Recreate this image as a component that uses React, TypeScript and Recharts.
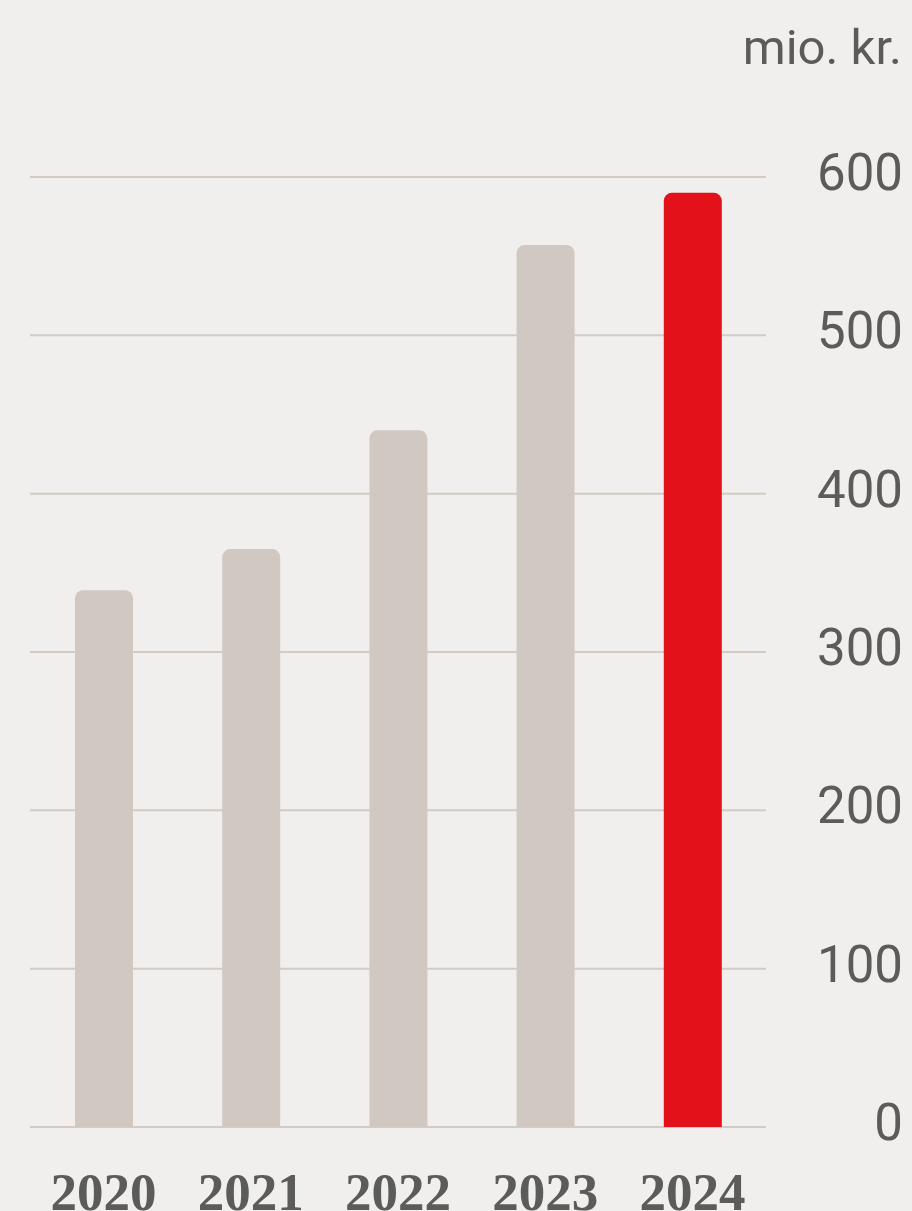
import { BarChart, Bar, XAxis, YAxis, CartesianGrid, Cell } from 'recharts'

const years = ['2020', '2021', '2022', '2023', '2024']
const values = [339, 365, 440, 557, 590]
const yTicks = [0, 100, 200, 300, 400, 500, 600]

const chartData = years.map((y, i) => ({ year: y, value: values[i] }))

const grey = '#d1c8c1'
const red = '#e2111a'
const textColor = '#5b5b59'

const YTick = (props: any) => {
  const { y, payload } = props
  return (
    <text
      x={903}
      y={y + 13}
      textAnchor="end"
      fill={textColor}
      fontFamily="Roboto, 'Noto Sans', sans-serif"
      fontSize={51}
    >
      {payload.value}
    </text>
  )
}

// year labels sit right at the bottom edge, like in the original
const XTick = (props: any) => {
  const { x, y, payload } = props
  return (
    <text
      x={x}
      y={y + 75}
      textAnchor="middle"
      fill={textColor}
      fontFamily="'Liberation Serif', 'DejaVu Serif', serif"
      fontWeight="bold"
      fontSize={53}
    >
      {payload.value}
    </text>
  )
}

export default function App() {
  return (
    <div
      style={{
        position: 'absolute',
        left: 0,
        top: 0,
        width: 912,
        height: 1211,
        background: '#f0efed',
        overflow: 'hidden',
      }}
    >
      <div
        style={{
          position: 'absolute',
          right: 10,
          top: 18,
          color: textColor,
          fontFamily: "Roboto, 'Noto Sans', sans-serif",
          fontSize: 49,
          lineHeight: '60px',
        }}
      >
        mio. kr.
      </div>
      <BarChart
        width={912}
        height={1211}
        data={chartData}
        margin={{ top: 177, right: 0, bottom: 0, left: 30 }}
        barSize={58}
      >
        <CartesianGrid vertical={false} stroke="#d3cbc4" strokeWidth={2} />
        <XAxis
          dataKey="year"
          axisLine={false}
          tickLine={false}
          height={84}
          tick={<XTick />}
          interval={0}
        />
        <YAxis
          orientation="right"
          domain={[0, 600]}
          ticks={yTicks}
          axisLine={false}
          tickLine={false}
          width={146}
          tick={<YTick />}
          interval={0}
        />
        <Bar dataKey="value" radius={[8, 8, 0, 0]} isAnimationActive={false}>
          {chartData.map((d, i) => (
            <Cell key={d.year} fill={i === years.length - 1 ? red : grey} />
          ))}
        </Bar>
      </BarChart>
    </div>
  )
}
